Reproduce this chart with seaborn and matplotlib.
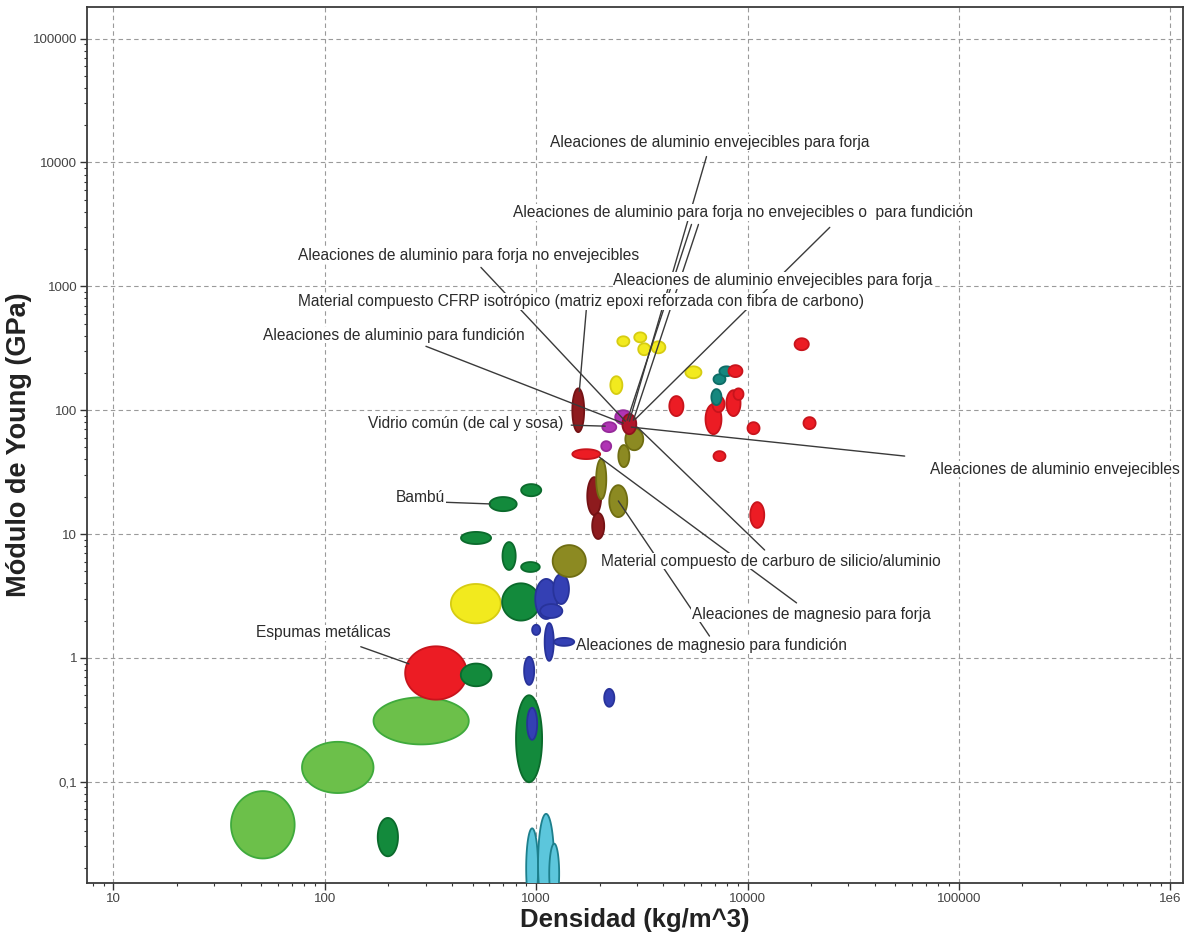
import numpy as np
import matplotlib
matplotlib.use("Agg")
import matplotlib.pyplot as plt
import seaborn as sns

# ---------------- data ----------------
# material property ellipses: family, density range (kg/m^3), Young's modulus range (GPa)
ell_family = [
    "lg", "lg", "lg", "red", "dg", "dg", "yel", "dg",
    "blue", "blue", "blue", "blue", "blue", "blue", "blue", "blue",
    "dg", "blue", "cyan", "cyan", "cyan",
    "dg", "dg", "dg", "dg", "dg", "olive", "maroon",
    "yel", "yel", "yel", "yel", "yel", "yel",
    "red", "maroon", "maroon", "olive", "olive", "olive", "olive",
    "mag", "mag", "mag", "crim",
    "red", "red", "red", "red", "red", "red", "red", "red", "red", "red",
    "teal", "teal", "teal", "red",
]
ell_rho_lo = [
    36, 78, 170, 240, 178, 440, 395, 690,
    990, 1205, 1045, 957, 1097, 1216, 877, 2099,
    803, 906, 897, 1021, 1153,
    849, 693, 441, 602, 849, 1197, 1483,
    2421, 2911, 3041, 3508, 2244, 5083,
    1483, 1745, 1841, 1923, 2218, 2448, 2642,
    2366, 2056, 2032, 2558,
    4266, 6328, 6825, 7945, 8585, 6903, 10000, 16700, 18400, 10300,
    6903, 7360, 6745, 8128,
]
ell_rho_hi = [
    72, 170, 480, 470, 222, 615, 680, 1040,
    1260, 1430, 1330, 1045, 1211, 1514, 979, 2344,
    1067, 1011, 1021, 1216, 1285,
    1040, 800, 612, 809, 1057, 1718, 1687,
    2761, 3319, 3467, 4086, 2558, 6054,
    2009, 2032, 2099, 2147, 2698, 2761, 3212,
    2818, 2394, 2265, 2977,
    4976, 7530, 7786, 9268, 9572, 7866, 11400, 19500, 21000, 12000,
    7866, 8585, 7530, 9462,
]
ell_E_lo = [
    0.024, 0.081, 0.20, 0.46, 0.025, 0.59, 1.9, 2.0,
    2.06, 2.72, 2.10, 1.53, 0.946, 1.25, 0.605, 0.403,
    0.099, 0.218, 0.0095, 0.0086, 0.0104,
    4.94, 5.13, 8.3, 15.3, 20.2, 4.5, 66.5,
    328, 353, 278, 288, 135, 181,
    40.3, 14.2, 9.12, 19.1, 13.7, 34.7, 47.5,
    77, 66.5, 46.7, 64,
    89.6, 64, 96.4, 89.6, 121, 38.8, 64, 305, 70.3, 11.2,
    162, 188, 110, 185,
]
ell_E_hi = [
    0.084, 0.21, 0.48, 1.24, 0.051, 0.90, 3.95, 4.0,
    4.34, 4.75, 2.72, 1.85, 1.91, 1.45, 1.02, 0.562,
    0.499, 0.395, 0.042, 0.055, 0.0316,
    5.94, 8.61, 10.4, 19.9, 25.3, 8.14, 150,
    395, 425, 347, 360, 188, 226,
    48.4, 28.8, 14.8, 40.3, 24.8, 52.3, 71.6,
    100, 80, 56.2, 92.9,
    130, 112, 130, 145, 150, 46.7, 80, 381, 87.9, 18.1,
    195, 226, 148, 231,
]

# annotations: text, text anchor (density, modulus)
ann_text = [
    "Aleaciones de aluminio envejecibles para forja",
    "Aleaciones de aluminio para forja no envejecibles o  para fundición",
    "Aleaciones de aluminio para forja no envejecibles",
    "Aleaciones de aluminio envejecibles para forja",
    "Material compuesto CFRP isotrópico (matriz epoxi reforzada con fibra de carbono)",
    "Aleaciones de aluminio para fundición",
    "Vidrio común (de cal y sosa)",
    "Aleaciones de aluminio envejecibles",
    "Bambú",
    "Material compuesto de carburo de silicio/aluminio",
    "Aleaciones de magnesio para forja",
    "Espumas metálicas",
    "Aleaciones de magnesio para fundición",
]
ann_rho = [1164, 778, 74.5, 2317, 74.5, 50.8, 160, 72900, 217, 2032, 5433, 47.1, 1549]
ann_E = [14490, 3955, 1778, 1117, 757, 403, 78.5, 33.4, 19.9, 6.05, 2.26, 1.59, 1.25]

# leader lines: start (density, modulus) -> end (density, modulus)
lead_rho0 = [6397, 5433, 5861, 24500, 548, 1726, 301, 1466, 55400, 355, 12050, 1990, 2448, 148]
lead_E0 = [11170, 3162, 3162, 2993, 1422, 640, 328, 75.7, 42.6, 18.1, 7.43, 41.8, 18.5, 1.23]
lead_rho1 = [2761, 2698, 2884, 2946, 2642, 1600, 2582, 2123, 2818, 605, 3013, 17060, 6607, 250]
lead_E1 = [81.5, 83, 83, 84.6, 81.5, 142, 78.5, 74.3, 73, 17.5, 73, 2.78, 1.50, 0.895]

x_ticks = [10, 100, 1000, 10000, 100000, 1000000]
x_ticklabels = ["10", "100", "1000", "10000", "100000", "1e6"]
y_ticks = [0.1, 1, 10, 100, 1000, 10000, 100000]
y_ticklabels = ["0,1", "1", "10", "100", "1000", "10000", "100000"]

# ---------------- style ----------------
sns.set_theme(style="white")
plt.rcParams["font.family"] = ["Liberation Sans", "DejaVu Sans"]

palette = {
    "lg": ("#6cc04a", "#3faa3c"),
    "dg": ("#138a3c", "#0b6a2c"),
    "red": ("#ec1c24", "#c8141c"),
    "yel": ("#f2ea1e", "#d6cc12"),
    "blue": ("#3440b4", "#28339a"),
    "cyan": ("#5cc6dc", "#1d7f8c"),
    "olive": ("#8c8a22", "#6f6d12"),
    "maroon": ("#8e1b1e", "#741214"),
    "crim": ("#b0162a", "#90101e"),
    "mag": ("#b034b4", "#962a9a"),
    "teal": ("#15877e", "#0e6c66"),
}

fig = plt.figure(figsize=(11.89, 9.39), dpi=100)
ax = fig.add_axes([0.0732, 0.0596, 0.9218, 0.9329])
ax.set_xscale("log")
ax.set_yscale("log")
ax.set_xlim(7.5, 1.15e6)
ax.set_ylim(0.0152, 1.8e5)

t = np.linspace(0, 2 * np.pi, 120)
for fam, r0, r1, e0, e1 in zip(ell_family, ell_rho_lo, ell_rho_hi, ell_E_lo, ell_E_hi):
    lx0, lx1 = np.log10(r0), np.log10(r1)
    ly0, ly1 = np.log10(e0), np.log10(e1)
    cx, cy = (lx0 + lx1) / 2, (ly0 + ly1) / 2
    ax_, ay_ = (lx1 - lx0) / 2, (ly1 - ly0) / 2
    xs = 10 ** (cx + ax_ * np.cos(t))
    ys = 10 ** (cy + ay_ * np.sin(t))
    fc, ec = palette[fam]
    ax.fill(xs, ys, facecolor=fc, edgecolor=ec, linewidth=1.3, zorder=3)

for x0, y0, x1, y1 in zip(lead_rho0, lead_E0, lead_rho1, lead_E1):
    sns.lineplot(x=[x0, x1], y=[y0, y1], ax=ax, color="#3a3a3a", linewidth=1.0,
                 zorder=5, estimator=None, sort=False)

for txt, xr, ye in zip(ann_text, ann_rho, ann_E):
    ax.text(xr, ye, txt, ha="left", va="center", fontsize=11.2, color="#2b2b2b",
            zorder=6, bbox=dict(facecolor="white", edgecolor="none", pad=0.6))

ax.set_xticks(x_ticks)
ax.set_xticklabels(x_ticklabels)
ax.set_yticks(y_ticks)
ax.set_yticklabels(y_ticklabels)
ax.tick_params(axis="both", which="major", direction="out", length=5, width=1,
               color="#333333", labelsize=9.6, labelcolor="#444444", pad=2,
               bottom=True, left=True)
ax.tick_params(axis="both", which="minor", direction="out", length=2.5, width=0.8,
               color="#333333", bottom=True, left=True)
ax.minorticks_on()
ax.grid(True, which="major", linestyle=(0, (4, 3)), color="#9a9a9a", linewidth=0.8, zorder=0)
ax.set_axisbelow(True)
for s in ax.spines.values():
    s.set_visible(True)
    s.set_color("#3a3a3a")
    s.set_linewidth(1.3)

ax.set_xlabel("Densidad (kg/m^3)", fontsize=18.5, fontweight="bold", color="#222222", labelpad=2)
ax.set_ylabel("Módulo de Young (GPa)", fontsize=19.5, fontweight="bold", color="#222222", labelpad=1)

fig.savefig("out.png", dpi=100, facecolor="white")
